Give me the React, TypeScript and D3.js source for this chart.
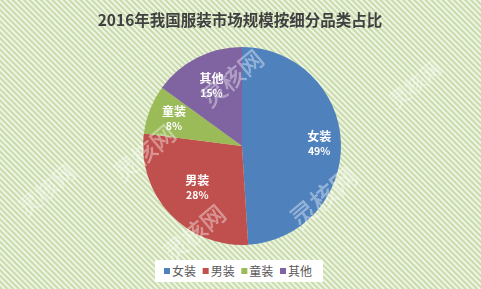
import React from "react";
import * as d3 from "d3";

const categories = ["女装", "男装", "童装", "其他"];
const values = [49, 28, 8, 15];
const colors = ["#4F81BD", "#C0504D", "#9BBB59", "#8064A2"];
const title = "2016年我国服装市场规模按细分品类占比";
const watermark = "灵核网";

const W = 481;
const H = 289;
const cx = 242;
const cy = 146;
const R = 99;

export default function App() {
  const pie = d3.pie<number>().sort(null).value((d) => d).startAngle(0).endAngle(2 * Math.PI);
  const arcs = pie(values);
  const arcGen = d3.arc<d3.PieArcDatum<number>>().innerRadius(0).outerRadius(R);
  const labelFactor = [0.78, 0.62, 0.74, 0.68];
  const legendX = d3.scalePoint<string>().domain(categories).range([164, 280]);
  const wm = [
    { x: 52, y: 196, s: 22 },
    { x: 150, y: 160, s: 24 },
    { x: 238, y: 85, s: 24 },
    { x: 330, y: 205, s: 26 },
    { x: 200, y: 240, s: 24 },
    { x: 420, y: 90, s: 20 },
  ];
  return (
    <div style={{ position: "fixed", left: 0, top: 0, width: W, height: H }}>
      <svg width={W} height={H} style={{ display: "block" }}>
        <defs>
          <pattern id="stripes" patternUnits="userSpaceOnUse" width={4} height={4} patternTransform="rotate(-45)">
            <rect x={0} y={0} width={4} height={4} fill="#eff5e4" />
            <rect x={0} y={0} width={2} height={4} fill="#c9dbab" />
          </pattern>
        </defs>
        <rect x={0} y={0} width={W} height={H} fill="url(#stripes)" />
        <text
          x={240}
          y={26}
          textAnchor="middle"
          fontFamily="'Noto Sans CJK SC', 'Noto Sans', sans-serif"
          fontWeight="bold"
          fontSize={15.5}
          fill="#404040"
        >
          {title}
        </text>
        <g transform={`translate(${cx},${cy})`}>
          {arcs.map((a, i) => (
            <path key={i} d={arcGen(a) || ""} fill={colors[i]} />
          ))}
          {arcs.map((a, i) => {
            const mid = (a.startAngle + a.endAngle) / 2;
            const r = R * labelFactor[i];
            const x = Math.sin(mid) * r;
            const y = -Math.cos(mid) * r;
            return (
              <g key={i} fontFamily="'Noto Sans CJK SC', 'Noto Sans', sans-serif" fill="#ffffff" textAnchor="middle" fontWeight="bold">
                <text x={x} y={y - 3} fontSize={12}>
                  {categories[i]}
                </text>
                <text x={x} y={y + 11} fontSize={10.5}>
                  {`${values[i]}%`}
                </text>
              </g>
            );
          })}
        </g>
        {wm.map((w, i) => (
          <text
            key={i}
            x={w.x}
            y={w.y}
            fontSize={w.s}
            textAnchor="middle"
            fontFamily="'Noto Sans CJK SC', sans-serif"
            fill="#ffffff"
            fillOpacity={0.35}
            stroke="#ffffff"
            strokeOpacity={0.25}
            strokeWidth={0.6}
            transform={`rotate(-40 ${w.x} ${w.y})`}
          >
            {watermark}
          </text>
        ))}
        <rect x={155} y={260} width={168} height={22} fill="#ffffff" />
        {categories.map((c, i) => {
          const x = legendX(c) as number;
          return (
            <g key={c}>
              <rect x={x} y={268} width={6} height={6} fill={colors[i]} />
              <text
                x={x + 8}
                y={275.5}
                fontSize={12}
                fontFamily="'Noto Sans CJK SC', sans-serif"
                fill="#595959"
              >
                {c}
              </text>
            </g>
          );
        })}
      </svg>
    </div>
  );
}
